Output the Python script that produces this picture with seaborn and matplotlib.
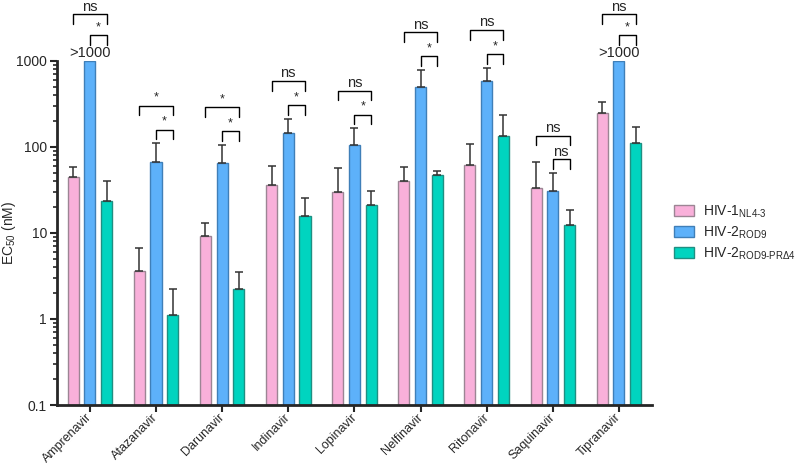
import numpy as np
import pandas as pd
import matplotlib
matplotlib.use('Agg')
import matplotlib.pyplot as plt
import matplotlib.ticker as mticker
import seaborn as sns

# EC50 values (nM)
drugs = ['Amprenavir', 'Atazanavir', 'Darunavir', 'Indinavir', 'Lopinavir',
         'Nelfinavir', 'Ritonavir', 'Saquinavir', 'Tipranavir']
strains = ['HIV-1 NL4-3', 'HIV-2 ROD9', 'HIV-2 ROD9-PRd4']
strain_labels = [r'HIV-1$_{\mathrm{NL4\text{-}3}}$', r'HIV-2$_{\mathrm{ROD9}}$',
                 r'HIV-2$_{\mathrm{ROD9\text{-}PR\Delta 4}}$']

ec50_nl43 = [44, 3.6, 9.1, 36, 30, 39.5, 62, 33, 245]
ec50_rod9 = [1000, 66, 64.5, 146, 105, 491, 586, 31, 1000]
ec50_prd4 = [23.6, 1.11, 2.23, 15.5, 20.8, 47.2, 134, 12.3, 110]

# upper end of the error bars (mean + SD); None where no bar is drawn
err_nl43 = [58, 6.65, 13, 60, 56.5, 58, 108, 66, 329]
err_rod9 = [None, 110, 105, 212, 164, 780, 830, 49.4, None]
err_prd4 = [40, 2.23, 3.5, 25.5, 31, 52.5, 234, 18.5, 170]

above_limit = [True, False, False, False, False, False, False, False, True]

# significance: NL4-3 vs PRd4 (outer bracket), ROD9 vs PRd4 (inner bracket)
sig_outer = ['ns', '*', '*', 'ns', 'ns', 'ns', 'ns', 'ns', 'ns']
sig_inner = ['*', '*', '*', '*', '*', '*', '*', 'ns', '*']

colors = ['#F9B0DA', '#5DB1FA', '#00D4BF']
edges = ['#9C8594', '#3F7FB8', '#1F8F82']

sns.set_style('ticks')
plt.rcParams['font.family'] = ['Liberation Sans', 'DejaVu Sans']
plt.rcParams['mathtext.fontset'] = 'custom'
plt.rcParams['mathtext.rm'] = 'Liberation Sans'
plt.rcParams['mathtext.it'] = 'Liberation Sans:italic'

df = pd.DataFrame({
    'drug': drugs * 3,
    'strain': np.repeat(strains, len(drugs)),
    'ec50': ec50_nl43 + ec50_rod9 + ec50_prd4,
})

fig = plt.figure(figsize=(8, 4.65), dpi=100)
ax = fig.add_axes([0.071, 0.129, 0.744, 0.7405])
ax.set_yscale('log')
sns.barplot(data=df, x='drug', y='ec50', hue='strain', order=drugs,
            hue_order=strains, palette=colors, width=0.76, gap=0.34,
            saturation=1, errorbar=None, legend=False, ax=ax)

bar_conts = list(ax.containers)
tops = [err_nl43, err_rod9, err_prd4]
centers = []
for i, cont in enumerate(bar_conts):
    xs = []
    for j, bar in enumerate(cont):
        bar.set_edgecolor(edges[i])
        bar.set_linewidth(1.0)
        x = bar.get_x() + bar.get_width() / 2
        xs.append(x)
        h = bar.get_height()
        t = tops[i][j]
        if t is not None:
            ax.errorbar(x, h, yerr=[[0], [t - h]], fmt='none', ecolor='#333333',
                        elinewidth=1.1, capsize=3.2, capthick=1.1, zorder=1)
    centers.append(xs)

ax.set_ylim(0.1, 1000)
ax.set_xlim(-0.5, len(drugs) - 0.5)
ax.yaxis.set_major_locator(mticker.FixedLocator([0.1, 1, 10, 100, 1000]))
ax.yaxis.set_minor_locator(mticker.LogLocator(base=10, subs=np.arange(2, 10), numticks=20))
ax.yaxis.set_minor_formatter(mticker.NullFormatter())
ax.set_yticklabels(['0.1', '1', '10', '100', '1000'])
ax.tick_params(axis='y', which='major', length=5, width=1.5, labelsize=10, pad=2)
ax.tick_params(axis='y', which='minor', left=True, length=3, width=1.2)
ax.tick_params(axis='x', length=5, width=1.5, labelsize=9, pad=2.5)
plt.setp(ax.get_xticklabels(), rotation=45, ha='right', va='center',
         rotation_mode='anchor')
for s in ['left', 'bottom']:
    ax.spines[s].set_linewidth(2)
sns.despine(ax=ax)
ax.set_xlabel('')
ax.set_ylabel(r'EC$_{50}$ (nM)', fontsize=10)
ax.yaxis.set_label_coords(-0.066, 0.5)

# brackets
leg = 1.30
for j in range(len(drugs)):
    x_a, x_b, x_c = centers[0][j], centers[1][j], centers[2][j]
    if above_limit[j]:
        ax.text(x_b, 1000 * 1.03, '>1000', ha='center', va='bottom',
                fontsize=10.5, clip_on=False)
        inner = 1000 * 2.0
        outer = inner * 1.72
    else:
        inner = max(err_rod9[j] or ec50_rod9[j], err_prd4[j]) * 1.44
        outer = inner * 1.9
    for (xl, xr, y, lab) in [(x_b, x_c, inner, sig_inner[j]),
                             (x_a, x_c, outer, sig_outer[j])]:
        ax.plot([xl, xl, xr, xr], [y / leg, y, y, y / leg], color='black',
                lw=1.0, clip_on=False)
        if lab == '*':
            ax.text((xl + xr) / 2, y * 1.05, '*', ha='center', va='bottom',
                    fontsize=9, clip_on=False)
        else:
            ax.text((xl + xr) / 2, y * 1.02, lab, ha='center', va='bottom',
                    fontsize=10.5, clip_on=False)

handles = [plt.Rectangle((0, 0), 1, 1, facecolor=c, edgecolor=e, lw=1)
           for c, e in zip(colors, edges)]
fig.legend(handles, strain_labels, loc='center left',
           bbox_to_anchor=(0.842, 0.5), frameon=False, fontsize=10,
           handlelength=1.5, handleheight=0.9, handletextpad=0.6,
           labelspacing=0.32, borderaxespad=0, borderpad=0)

fig.savefig('out.png', dpi=100)
